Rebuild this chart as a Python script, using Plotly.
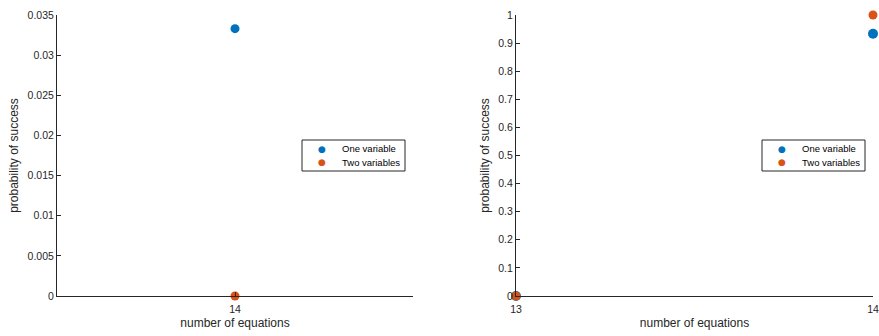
import plotly.graph_objects as go

# Data
eq_left = [14]
one_left = [0.0333]
two_left = [0.0]

eq_right = [13, 14]
one_right = [0.0, 0.9333]
two_right = [0.0, 1.0]

series_names = ["One variable", "Two variables"]
blue = "#0072BD"
orange = "#D95319"
series_colors = [blue, orange]
axcol = "#262626"
font_family = "Liberation Sans, Arial, sans-serif"

fig = go.Figure()
mk = dict(size=9)
fig.add_trace(go.Scatter(x=eq_left, y=one_left, mode="markers", name=series_names[0],
                         marker=dict(color=blue, **mk), xaxis="x", yaxis="y", cliponaxis=False))
fig.add_trace(go.Scatter(x=eq_left, y=two_left, mode="markers", name=series_names[1],
                         marker=dict(color=orange, **mk), xaxis="x", yaxis="y", cliponaxis=False))
fig.add_trace(go.Scatter(x=eq_right, y=one_right, mode="markers", name=series_names[0],
                         marker=dict(color=blue, size=10), xaxis="x2", yaxis="y2", cliponaxis=False))
fig.add_trace(go.Scatter(x=eq_right, y=two_right, mode="markers", name=series_names[1],
                         marker=dict(color=orange, **mk), xaxis="x2", yaxis="y2", cliponaxis=False))

W, H = 879, 336
ydom = [1 - 296 / H, 1 - 15 / H]

common_axis = dict(showline=True, linecolor=axcol, linewidth=1, ticks="inside", ticklen=4,
                   tickcolor=axcol, showgrid=False, zeroline=False, mirror=False, automargin=False,
                   tickfont=dict(size=10.5, color=axcol, family=font_family),
                   title_font=dict(size=12, color=axcol, family=font_family))

fig.update_layout(
    width=W, height=H,
    margin=dict(l=0, r=0, t=0, b=0),
    paper_bgcolor="white", plot_bgcolor="white",
    font=dict(family=font_family, color=axcol),
    showlegend=False,
    xaxis=dict(domain=[57 / W, 413 / W], range=[13.5, 14.5], tickvals=[14], ticktext=["14"],
               ticklabelstandoff=3,
               title=dict(text="number of equations", standoff=5), anchor="y", **common_axis),
    yaxis=dict(domain=ydom, range=[0, 0.035], dtick=0.005, tickformat="~g",
               title=dict(text="probability of success", standoff=6), anchor="x", **common_axis),
    xaxis2=dict(domain=[516 / W, 873 / W], range=[13, 14], tickvals=[13, 14], ticktext=["13", "14"],
                ticklabelstandoff=3,
                title=dict(text="number of equations", standoff=5), anchor="y2", **common_axis),
    yaxis2=dict(domain=ydom, range=[0, 1], dtick=0.1, tickformat="~g",
                title=dict(text="probability of success", standoff=6), anchor="x2", **common_axis),
)

# Legend boxes (one per panel), built from series names/colours
for left_px in (302, 762):
    x0 = left_px / W
    x1 = (left_px + 103) / W
    y1 = 1 - 140 / H
    y0 = 1 - 171 / H
    fig.add_shape(type="rect", xref="paper", yref="paper", x0=x0, x1=x1, y0=y0, y1=y1,
                  line=dict(color=axcol, width=1), fillcolor="white", layer="above")
    for i, (name, col) in enumerate(zip(series_names, series_colors)):
        yc = 1 - (148.5 + 14 * i) / H
        fig.add_annotation(xref="paper", yref="paper", x=(left_px + 20) / W, y=yc,
                           text="●", showarrow=False, xanchor="center", yanchor="middle",
                           font=dict(size=9, color=col, family="DejaVu Sans"))
        fig.add_annotation(xref="paper", yref="paper", x=(left_px + 38) / W, y=yc,
                           text=name, showarrow=False, xanchor="left", yanchor="middle",
                           font=dict(size=9.5, color="#000000", family=font_family))

fig.write_html("out.html")
